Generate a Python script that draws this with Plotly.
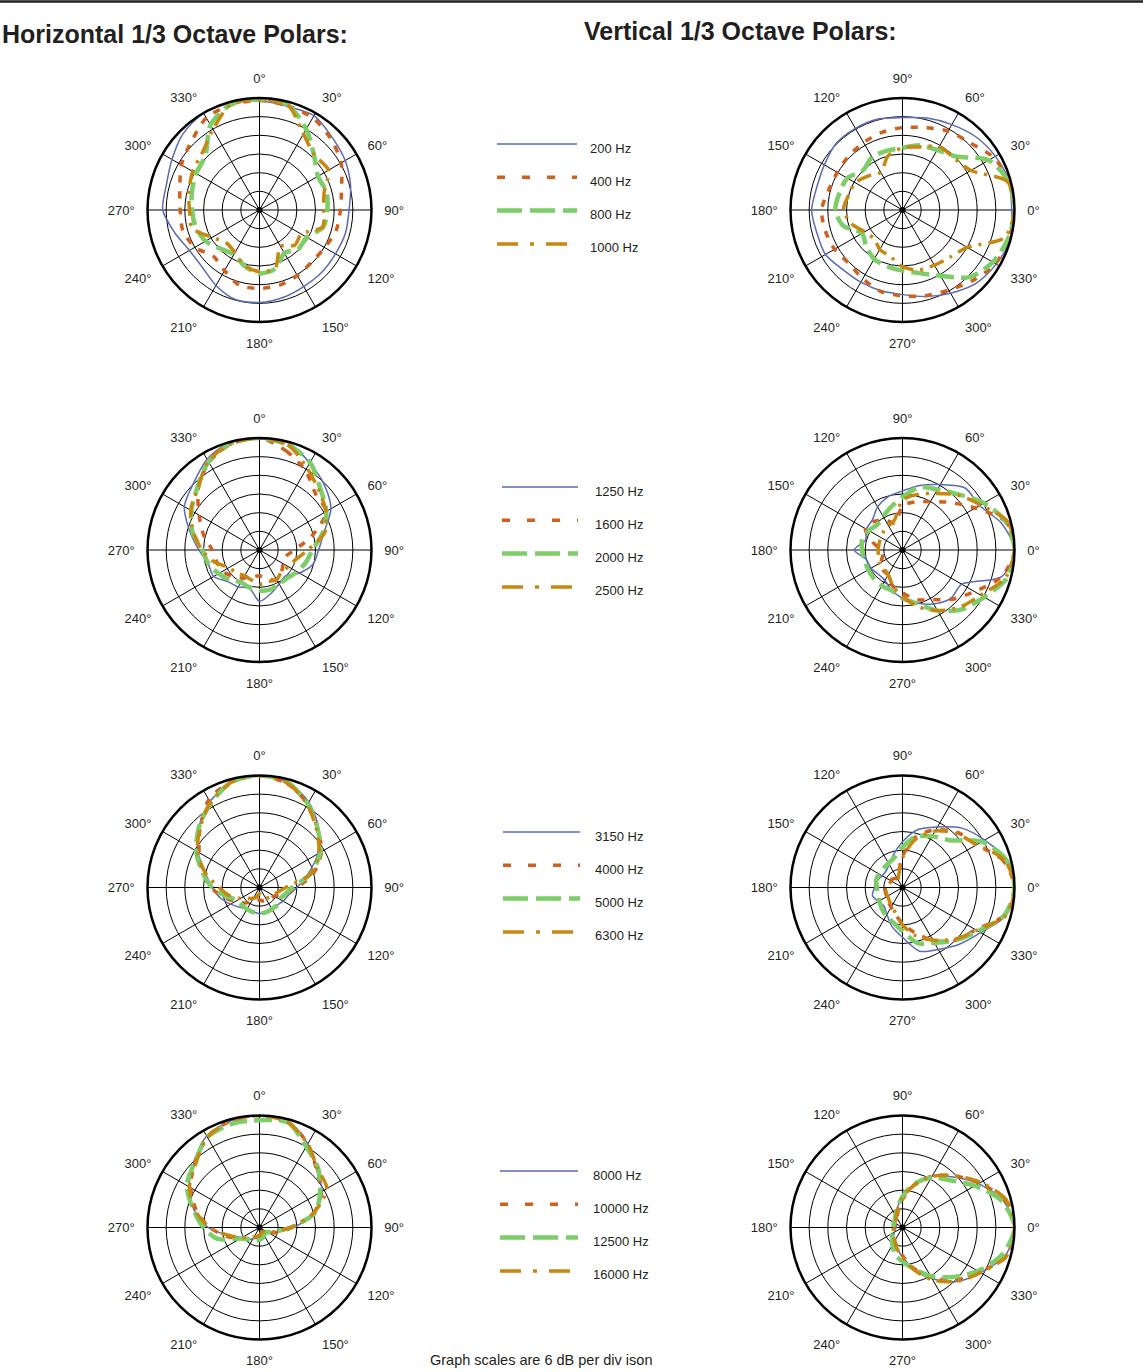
import plotly.graph_objects as go

# ---------------- data (dB relative to on-axis, 6 dB per division) ----------------
ANGLES = list(range(0, 360, 15))

# Horizontal polars (0 deg at top, clockwise)
H_200 = [-1, -1.5, -1, -3, -4.2, -5.7, -7.2, -7.4, -7.8, -7.7, -7.6, -6.9, -6.3, -6.2, -8, -10, -10, -7.8, -4.9, -5, -3.5, -1.3, 0, -0.4]
H_400 = [-0.8, -1.3, -1.8, -3.6, -5.7, -8.7, -10, -10.5, -11.8, -12.3, -11.7, -11, -10.8, -11, -13.5, -15, -12, -10.5, -10.5, -9.5, -7, -5, -1.8, -1]
H_800 = [-0.4, -1, -6, -11.2, -14.3, -13.7, -14.2, -14.8, -18.5, -18.3, -20, -16.5, -15.6, -17.4, -19.5, -18.4, -16, -14.8, -14.3, -13.5, -12.5, -11.4, -4.5, -0.8]
H_1000 = [-0.5, -1, -7.8, -11, -10.4, -14.5, -15.4, -15, -20.5, -20, -22.5, -16.6, -16.2, -17.5, -20.2, -21, -18.4, -13.6, -13.5, -12.5, -11.2, -10, -6.1, -0.8]

H_1250 = [-0.3, -0.3, -3.7, -6.5, -9.5, -14.6, -17, -18.2, -21.2, -24.2, -23.4, -21.6, -19.5, -23.3, -22.3, -21.6, -19, -18.9, -16.5, -12.8, -8.1, -5.9, -2.3, 0]
H_1600 = [0, -3, -6.5, -10.5, -11.3, -18.6, -24.8, -27.4, -27.2, -26, -25, -26.5, -27.7, -27, -25.6, -24, -22.3, -21.7, -20.8, -17.4, -13.6, -8.2, -3.5, -0.7]
H_2000 = [0, -1, -3.5, -8.3, -11.2, -15, -19, -20.6, -22, -23.3, -23.4, -22.8, -23, -23.5, -24, -22.5, -20.8, -19, -17.6, -13.7, -10.7, -7.7, -3.2, -0.5]
H_2500 = [0, -1, -5.5, -9, -11.3, -14.3, -20.5, -24, -25.3, -26, -25, -25.5, -25, -26, -26.5, -25.5, -24.7, -21, -17.5, -14, -10.5, -8, -3, -0.7]

H_3150 = [0, -1, -4.3, -9.1, -14.4, -20, -24, -26.4, -27.2, -28, -28, -28, -27.6, -28, -28, -27, -25.3, -23, -20.8, -18, -13.2, -8.5, -4.1, -1.2]
H_4000 = [0, -1.5, -5, -9.5, -13, -18, -24, -28, -30.5, -31, -31, -31.5, -32, -31.5, -30.5, -29, -27, -24, -20.5, -17, -13.6, -9, -3.4, -0.8]
H_5000 = [0, -1, -5, -9.5, -13.5, -19, -25.5, -27.5, -28.5, -28, -28, -27.8, -27.6, -27.8, -28, -28, -27.8, -25, -20.8, -17, -12.5, -8.5, -4.7, -1]
H_6300 = [0, -1.3, -5.3, -10, -14, -19, -27.6, -30, -31, -31.5, -32, -33, -34, -33, -32, -31, -29, -26, -23, -18, -13, -9, -4.5, -1]

H_8000 = [0, -0.5, -5, -10, -12.7, -17.5, -25, -30.5, -32.5, -33.5, -34, -33.5, -33, -32.5, -31.8, -30.5, -29.5, -26, -19.5, -14.2, -9.9, -6.3, -2, -0.5]
H_10000 = [0, -0.8, -5, -10, -13, -18, -25.5, -30, -32.5, -34, -34.5, -34, -33.5, -33, -32, -31, -29, -25, -20, -15, -10.5, -6.5, -2.3, -0.5]
H_12500 = [-1.5, -1, -6, -9.3, -13.5, -17.5, -26, -31, -33, -33.5, -33, -32.5, -32, -31.5, -31, -30.7, -29, -22, -18, -14, -9, -6.5, -2.5, -1.5]
H_16000 = [0, -1, -5, -9.5, -11, -18, -26, -31, -33, -34, -34.5, -34, -33.5, -33, -32.5, -31.5, -29.5, -26, -20, -14.5, -10, -7, -2.5, -0.5]

# Vertical polars (0 deg at right, counter-clockwise)
V_200 = [-0.9, -0.5, -1.5, -2.7, -4.3, -5.4, -6.3, -5.7, -5.7, -5.8, -7, -7.5, -6.8, -7.5, -7.4, -8.9, -9.2, -9.1, -8.8, -7.2, -5.1, -2.6, -1.2, 0]
V_400 = [0, -0.5, -2.2, -5.4, -6.7, -8.6, -9.5, -10.2, -11, -11.5, -11.8, -11.4, -10, -10.3, -10.8, -11.7, -10.5, -8.9, -8.4, -7.5, -6.3, -4, -1.5, -0.6]
V_800 = [0, -0.8, -4, -11.7, -13.7, -14.5, -16, -16.3, -16.4, -18, -15.5, -15, -14.4, -16.3, -21, -19.5, -17.8, -17.2, -16.5, -15, -11.6, -5.5, -2.5, -0.8]
V_1000 = [0, -1, -10.6, -12.5, -12.5, -15, -16, -18, -22, -20.5, -18.5, -18, -17, -19, -22, -23, -21.4, -20.6, -17.8, -16, -15.5, -14.5, -12, -2]

V_1250 = [0, -3, -7.4, -7.7, -11.7, -14.5, -17, -18.2, -20, -22.3, -22.6, -23.7, -20.5, -24, -24.3, -25, -24.7, -22.6, -20.5, -18.4, -16, -14, -14, -3]
V_1600 = [0, -1.5, -9, -14.4, -18, -20, -21.8, -27, -25, -23, -22.2, -26, -29, -29.4, -28, -27, -26.7, -24, -22.3, -19.5, -17.6, -13.6, -9.3, -3]
V_2000 = [0, -1.5, -5.8, -10.7, -13.5, -15.1, -19, -21.7, -23.5, -24.5, -23.5, -22.6, -23, -23.3, -23.3, -23, -22.7, -22.5, -20.5, -18.2, -13.5, -9, -5.7, -1.2]
V_2500 = [0, -1, -7, -11, -15, -17.5, -20, -26, -27, -27.5, -28, -28.2, -28.2, -28, -27.5, -27.5, -26.9, -24, -21, -17.2, -13.5, -10, -7, -1.7]

V_3150 = [0, -1.5, -5.5, -9, -13.5, -16.7, -21.3, -25, -27.5, -28.5, -28.5, -27.5, -27, -26, -27, -27.6, -26, -23, -20, -14.8, -13, -10.2, -7, -1.5]
V_4000 = [0, -2.5, -8.5, -11, -14.6, -19, -26, -31, -32.6, -32, -31.5, -31, -30.5, -30.3, -30, -29.5, -28.7, -27, -24.5, -21, -16.4, -12, -8.8, -2]
V_5000 = [0, -1.5, -6.5, -14.5, -17, -19, -23, -26, -27, -27.3, -27.3, -27.2, -27.8, -27.6, -27.4, -26.5, -25.5, -24.4, -22, -17.5, -15.5, -12, -8, -2]
V_6300 = [0, -2, -8.5, -11.5, -15, -20, -26.5, -31.5, -33, -32.5, -32, -31.5, -31, -30.5, -30.5, -30, -29, -27.5, -24, -20, -16.5, -12.5, -8.5, -1.5]

V_8000 = [0, -2.5, -7.8, -13, -17, -22, -26, -29.5, -32, -33, -33.5, -34, -34, -33.5, -33, -32, -30.5, -29, -26.6, -22, -17, -11.4, -7, -1.7]
V_10000 = [0, -2, -7.5, -12.5, -17, -22, -27, -30.5, -32.5, -33, -33, -33.5, -33.5, -33, -32.5, -32, -31, -29.5, -27, -22.5, -17.5, -12, -7.5, -1]
V_12500 = [0, -3, -9.2, -14.5, -17.5, -21.5, -26, -29.5, -31.5, -32.5, -32.8, -33, -33, -32.5, -32, -31.4, -29.5, -27, -25, -22.4, -18, -13.5, -8, -2.7]
V_16000 = [0, -1.5, -7, -12.5, -17, -22, -26.5, -30, -32, -33, -33.5, -33.5, -33, -33, -32.5, -32, -31, -29, -26.5, -22, -16.5, -11.5, -7, -1.2]

LABELS = [
    ["200 Hz", "400 Hz", "800 Hz", "1000 Hz"],
    ["1250 Hz", "1600 Hz", "2000 Hz", "2500 Hz"],
    ["3150 Hz", "4000 Hz", "5000 Hz", "6300 Hz"],
    ["8000 Hz", "10000 Hz", "12500 Hz", "16000 Hz"],
]
H_ROWS = [[H_200, H_400, H_800, H_1000], [H_1250, H_1600, H_2000, H_2500],
          [H_3150, H_4000, H_5000, H_6300], [H_8000, H_10000, H_12500, H_16000]]
V_ROWS = [[V_200, V_400, V_800, V_1000], [V_1250, V_1600, V_2000, V_2500],
          [V_3150, V_4000, V_5000, V_6300], [V_8000, V_10000, V_12500, V_16000]]

R_MIN, R_MAX, DB_DIV = -36, 0, 6

# ---------------- styles ----------------
W, H = 1143, 1372
COLORS = ["#5a6bb3", "#d0601e", "#7dcd69", "#c8870f"]
WIDTHS = [1.5, 3.5, 4.5, 3.5]
DASH_POLAR = ["solid", "7px,9px", "18px,7px", "15px,7px,3px,7px"]
DASH_LEG = ["solid", "8px,17px", "25px,8px", "21px,12px,4px,12px"]
FONT = "Liberation Sans, Arial, Helvetica, sans-serif"

H_CX, V_CX = 259.5, 902.5
ROW_CY = [210.0, 550.0, 887.5, 1227.5]
RAD = 112.0
LEG_X = [(497, 577, 11), (502, 578, 15), (503, 580, 13), (500, 578, 13)]
LEG_Y0 = [144, 487, 832, 1171]
LEG_STEP = 33.3


def px_dom(cx, cy, r):
    return dict(x=[(cx - r) / W, (cx + r) / W], y=[1 - (cy + r) / H, 1 - (cy - r) / H])


def polar_layout(cx, cy, horizontal):
    return dict(
        domain=px_dom(cx, cy, RAD),
        bgcolor="white",
        angularaxis=dict(
            rotation=90 if horizontal else 0,
            direction="clockwise" if horizontal else "counterclockwise",
            tickmode="linear", tick0=0, dtick=30, ticksuffix="°",
            showline=True, linecolor="black", linewidth=2.5,
            showgrid=True, gridcolor="black", gridwidth=1,
            ticks="outside", ticklen=9, tickcolor="rgba(0,0,0,0)",
            tickfont=dict(size=13, color="#231f20", family=FONT),
        ),
        radialaxis=dict(
            range=[R_MIN, R_MAX], tickmode="linear", tick0=R_MIN, dtick=DB_DIV,
            showticklabels=False, ticks="", showline=False,
            showgrid=True, gridcolor="black", gridwidth=1,
        ),
    )


fig = go.Figure()
layout = dict()
annotations = []

for row in range(4):
    for side, (cx, rows, horiz) in enumerate([(H_CX, H_ROWS, True), (V_CX, V_ROWS, False)]):
        idx = row * 2 + side + 1
        name = "polar" if idx == 1 else f"polar{idx}"
        layout[name] = polar_layout(cx, ROW_CY[row], horiz)
        for k, vals in enumerate(rows[row]):
            fig.add_trace(go.Scatterpolar(
                r=vals + [vals[0]], theta=ANGLES + [360], mode="lines",
                line=dict(color=COLORS[k], width=WIDTHS[k], dash=DASH_POLAR[k], shape="spline", smoothing=0.8),
                subplot=name, showlegend=False, name=LABELS[row][k], hoverinfo="skip",
            ))
        fig.add_trace(go.Scatterpolar(
            r=[R_MIN], theta=[0], mode="markers", marker=dict(color="black", size=6),
            subplot=name, showlegend=False, hoverinfo="skip"))

    # legend block drawn on a small cartesian axis
    xs, xe, gap = LEG_X[row]
    top = LEG_Y0[row] - LEG_STEP / 2
    bot = LEG_Y0[row] + 3 * LEG_STEP + LEG_STEP / 2
    ax = "" if row == 0 else str(row + 1)
    layout["xaxis" + ax] = dict(domain=[xs / W, xe / W], range=[0, 1], visible=False, fixedrange=True)
    layout["yaxis" + ax] = dict(domain=[1 - bot / H, 1 - top / H], range=[3.5, -0.5], visible=False, fixedrange=True)
    for k, lab in enumerate(LABELS[row]):
        fig.add_trace(go.Scatter(
            x=[0, 1], y=[k, k], mode="lines", xaxis="x" + ax, yaxis="y" + ax,
            line=dict(color=COLORS[k], width=WIDTHS[k], dash=DASH_LEG[k]),
            showlegend=False, hoverinfo="skip", name=lab))
        annotations.append(dict(
            x=1, y=k, xref="x" + ax, yref="y" + ax, text=lab, showarrow=False,
            xanchor="left", yanchor="middle", xshift=gap, yshift=-4,
            font=dict(size=13, color="#231f20", family=FONT)))

TITLE_FONT = dict(size=25, color="#231f20", family=FONT, weight="bold")
annotations.append(dict(x=0, y=1 - 33.5 / H, xref="paper", yref="paper", xanchor="left", yanchor="middle",
                        text="Horizontal 1/3 Octave Polars:", showarrow=False, font=TITLE_FONT))
annotations.append(dict(x=582 / W, y=1 - 31.5 / H, xref="paper", yref="paper", xanchor="left", yanchor="middle",
                        text="Vertical 1/3 Octave Polars:", showarrow=False, font=TITLE_FONT))
annotations.append(dict(x=541 / W, y=1 - 1360 / H, xref="paper", yref="paper", xanchor="center", yanchor="middle",
                        text="Graph scales are 6 dB per div ison", showarrow=False,
                        font=dict(size=14.5, color="#231f20", family=FONT)))

fig.update_layout(
    **layout,
    width=W, height=H, autosize=False,
    margin=dict(l=0, r=0, t=0, b=0),
    paper_bgcolor="white", plot_bgcolor="white",
    showlegend=False,
    annotations=annotations,
    shapes=[dict(type="line", xref="paper", yref="paper", x0=0, x1=1, y0=1 - 1.5 / H, y1=1 - 1.5 / H,
                 line=dict(color="#231f20", width=2.5))],
    font=dict(family=FONT),
)

fig.write_html("out.html", config={"displayModeBar": False},
               post_script="document.body.style.margin='0';document.body.style.overflow='hidden';")
